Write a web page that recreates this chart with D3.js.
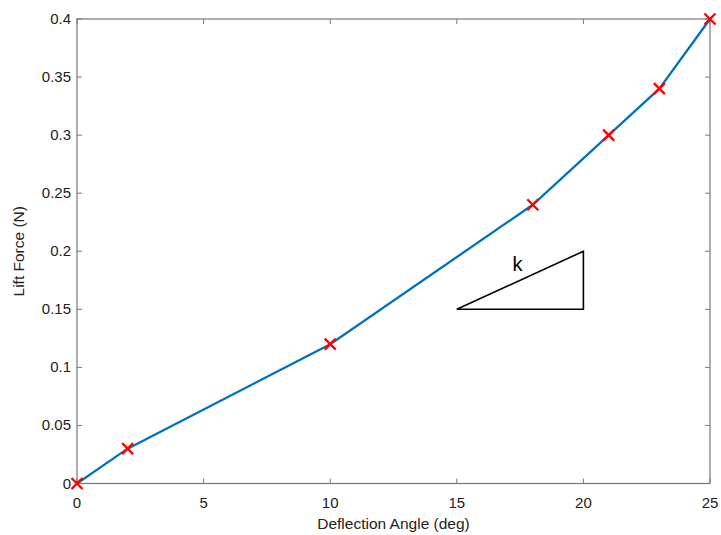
<html>
<head>
  <script src='https://d3js.org/d3.v7.min.js'></script>
  <style>
    body { margin: 0; background: #fff; }
    text { font-family: 'Liberation Sans', Arial, sans-serif; }
  </style>
</head>
<body>
  <script>

    var angle = [0, 2, 10, 18, 21, 23, 25];
    var lift = [0, 0.03, 0.12, 0.24, 0.30, 0.34, 0.40];
    var xTicks = [0, 5, 10, 15, 20, 25];
    var yTicks = [0, 0.05, 0.1, 0.15, 0.2, 0.25, 0.3, 0.35, 0.4];
    // slope triangle corners, data units
    var triX = [15, 20, 20];
    var triY = [0.15, 0.15, 0.2];

    var width = 721,
        height = 535;
    var padL = 77, padR = 710, padT = 19, padB = 483.5;

    var svg = d3.select('body')
      .append('svg')
      .attr('width', width)
      .attr('height', height);

    var x = d3.scaleLinear().domain([0, 25]).range([padL, padR]);
    var y = d3.scaleLinear().domain([0, 0.4]).range([padB, padT]);

    var axisColor = '#777';

    // box
    svg.append('rect')
      .attr('x', padL).attr('y', padT)
      .attr('width', padR - padL).attr('height', padB - padT)
      .attr('fill', 'none')
      .attr('stroke', axisColor)
      .attr('stroke-width', 1.2);

    var tickLen = 5;

    svg.selectAll('.xt')
      .data(xTicks)
      .enter()
      .append('path')
      .attr('d', (d) => 'M' + x(d) + ',' + padB + 'v' + (-tickLen) +
                        'M' + x(d) + ',' + padT + 'v' + tickLen)
      .attr('stroke', axisColor);

    svg.selectAll('.yt')
      .data(yTicks)
      .enter()
      .append('path')
      .attr('d', (d) => 'M' + padL + ',' + y(d) + 'h' + tickLen +
                        'M' + padR + ',' + y(d) + 'h' + (-tickLen))
      .attr('stroke', axisColor);

    svg.selectAll('.xl')
      .data(xTicks)
      .enter()
      .append('text')
      .attr('x', (d) => x(d))
      .attr('y', padB + 24)
      .attr('text-anchor', 'middle')
      .attr('font-size', 15)
      .attr('fill', '#222')
      .text((d) => d);

    svg.selectAll('.yl')
      .data(yTicks)
      .enter()
      .append('text')
      .attr('x', padL - 6)
      .attr('y', (d) => y(d) + 5)
      .attr('text-anchor', 'end')
      .attr('font-size', 15)
      .attr('fill', '#222')
      .text((d) => d);

    svg.append('text')
      .attr('x', (padL + padR) / 2)
      .attr('y', padB + 45)
      .attr('text-anchor', 'middle')
      .attr('font-size', 15.5)
      .attr('fill', '#222')
      .text('Deflection Angle (deg)');

    svg.append('text')
      .attr('transform', 'translate(24,' + ((padT + padB) / 2) + ') rotate(-90)')
      .attr('text-anchor', 'middle')
      .attr('font-size', 15.5)
      .attr('fill', '#222')
      .text('Lift Force (N)');

    // slope triangle
    var tri = d3.line()
      .x((d, i) => x(triX[i]))
      .y((d, i) => y(triY[i]));

    svg.append('path')
      .attr('d', tri(triX) + 'Z')
      .attr('fill', 'none')
      .attr('stroke', '#000')
      .attr('stroke-width', 1.6);

    svg.append('text')
      .attr('x', x(17.4))
      .attr('y', y(0.183))
      .attr('text-anchor', 'middle')
      .attr('font-size', 20)
      .attr('fill', '#000')
      .text('k');

    // measured curve
    var line = d3.line()
      .x((d, i) => x(angle[i]))
      .y((d, i) => y(lift[i]));

    svg.append('path')
      .attr('d', line(angle))
      .attr('fill', 'none')
      .attr('stroke', '#0072BD')
      .attr('stroke-width', 2.3);

    var m = 5.5;
    svg.selectAll('.mk')
      .data(angle)
      .enter()
      .append('path')
      .attr('d', (d, i) => {
        var cx = x(d), cy = y(lift[i]);
        return 'M' + (cx - m) + ',' + (cy - m) + 'L' + (cx + m) + ',' + (cy + m) +
               'M' + (cx - m) + ',' + (cy + m) + 'L' + (cx + m) + ',' + (cy - m);
      })
      .attr('stroke', '#ff0000')
      .attr('stroke-width', 2.3);

  </script>
</body>
</html>
